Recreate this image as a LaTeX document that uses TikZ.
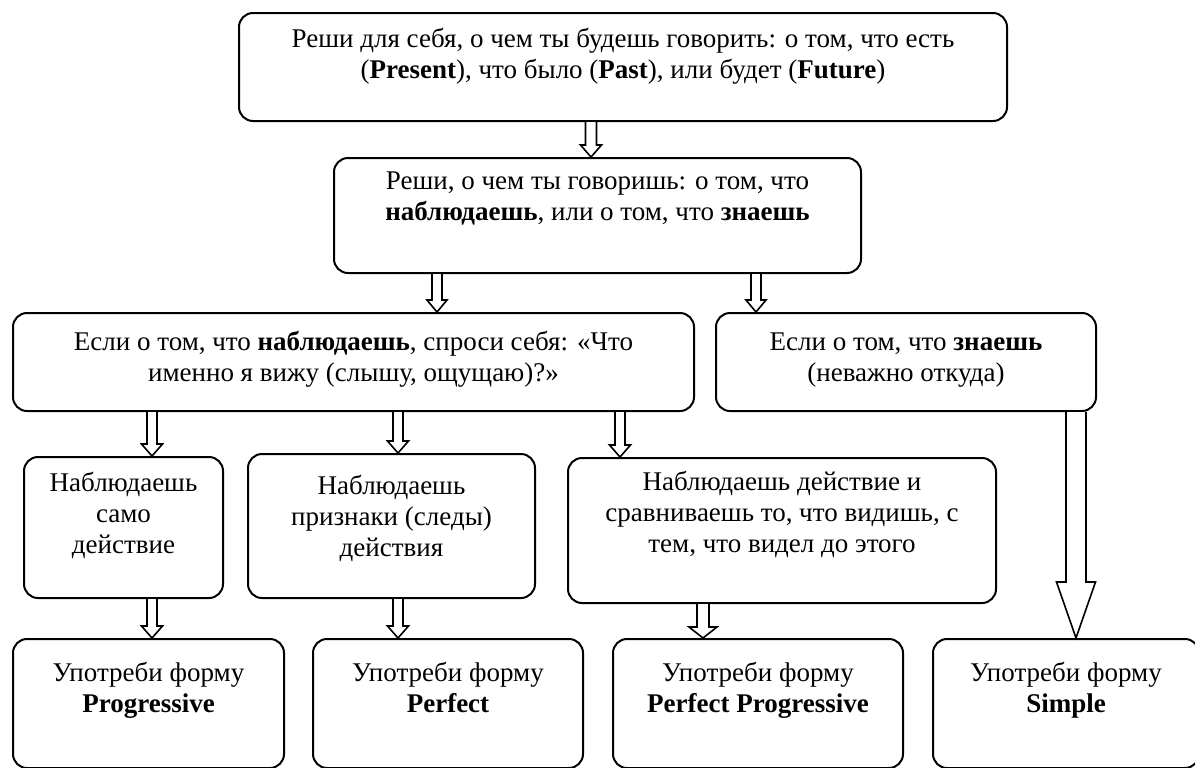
\documentclass[tikz,border=0pt]{standalone}
\usepackage{fontspec}
\setmainfont{Liberation Serif}
\usepackage{tikz}
\usetikzlibrary{calc}

% box content: width, height, first baseline, text
\newcommand{\boxtext}[4]{\parbox[t][#2][t]{#1}{\centering\rule{0pt}{#3}#4}}
% hollow arrow: x, from, to, half shaft, half head, head length
\newcommand{\hollowarrow}[6]{%
  \draw[blockarrow] ($(#2.south -| #1,0)+(-#4,0)$) -- ($(#3.north -| #1,0)+(-#4,-#6)$)
    -- ($(#3.north -| #1,0)+(-#5,-#6)$) -- (#3.north -| #1,0)
    -- ($(#3.north -| #1,0)+(#5,-#6)$) -- ($(#3.north -| #1,0)+(#4,-#6)$)
    -- ($(#2.south -| #1,0)+(#4,0)$);}

\begin{document}
\begin{tikzpicture}[x=0.5pt, y=-0.5pt,
  every node/.style={font=\fontsize{13.5}{15.5}\selectfont},
  stepbox/.style={draw, line width=1pt, rounded corners=7pt, inner sep=0pt, anchor=north west},
  blockarrow/.style={line width=0.8pt, fill=white, line join=miter}]
\useasboundingbox (0,0) rectangle (1195,767);

\node[stepbox] (b1) at (238,12) {\boxtext{384pt}{54pt}{17pt}{Реши для себя, о чем ты будешь говорить: о том, что есть\\(\textbf{Present}), что было (\textbf{Past}), или будет (\textbf{Future})}};
\node[stepbox] (b2) at (333,157) {\boxtext{263.5pt}{57.5pt}{15.5pt}{Реши, о чем ты говоришь: о том, что\\\textbf{наблюдаешь}, или о том, что \textbf{знаешь}}};
\node[stepbox] (b3) at (12,312) {\boxtext{340.5pt}{49pt}{18.5pt}{Если о том, что \textbf{наблюдаешь}, спроси себя: «Что\\именно я вижу (слышу, ощущаю)?»}};
\node[stepbox] (b4) at (715,312) {\boxtext{190pt}{49pt}{18.5pt}{Если о том, что \textbf{знаешь}\\(неважно откуда)}};
\node[stepbox] (b5) at (23,456) {\boxtext{99.5pt}{70.5pt}{17pt}{Наблюдаешь\\само\\действие}};
\node[stepbox] (b6) at (247,453) {\boxtext{143.5pt}{72pt}{20pt}{Наблюдаешь\\признаки (следы)\\действия}};
\node[stepbox] (b7) at (567,457) {\boxtext{214pt}{72.5pt}{16pt}{Наблюдаешь действие и\\сравниваешь то, что видишь, с\\тем, что видел до этого}};
\node[stepbox] (b8) at (12,638) {\boxtext{135.5pt}{64.5pt}{21pt}{Употреби форму\\\textbf{Progressive}}};
\node[stepbox] (b9) at (312,638) {\boxtext{135pt}{64.5pt}{21pt}{Употреби форму\\\textbf{Perfect}}};
\node[stepbox] (b10) at (612,638) {\boxtext{145pt}{64.5pt}{21pt}{Употреби форму\\\textbf{Perfect Progressive}}};
\node[stepbox] (b11) at (932,638) {\boxtext{133pt}{64.5pt}{21pt}{Употреби форму\\\textbf{Simple}}};

\hollowarrow{591}{b1}{b2}{5.5}{10.5}{12}
\hollowarrow{437}{b2}{b3}{5}{10}{12}
\hollowarrow{756}{b2}{b4}{5}{10}{12}
\hollowarrow{152}{b3}{b5}{5}{10.5}{12}
\hollowarrow{398}{b3}{b6}{5}{10.5}{12}
\hollowarrow{620}{b3}{b7}{5}{10.5}{12}
\hollowarrow{152}{b5}{b8}{5}{10.5}{12}
\hollowarrow{398}{b6}{b9}{5}{10.5}{12}
\hollowarrow{703}{b7}{b10}{6}{14}{11}
\hollowarrow{1076}{b4}{b11}{10}{19.5}{56}
\end{tikzpicture}
\end{document}
